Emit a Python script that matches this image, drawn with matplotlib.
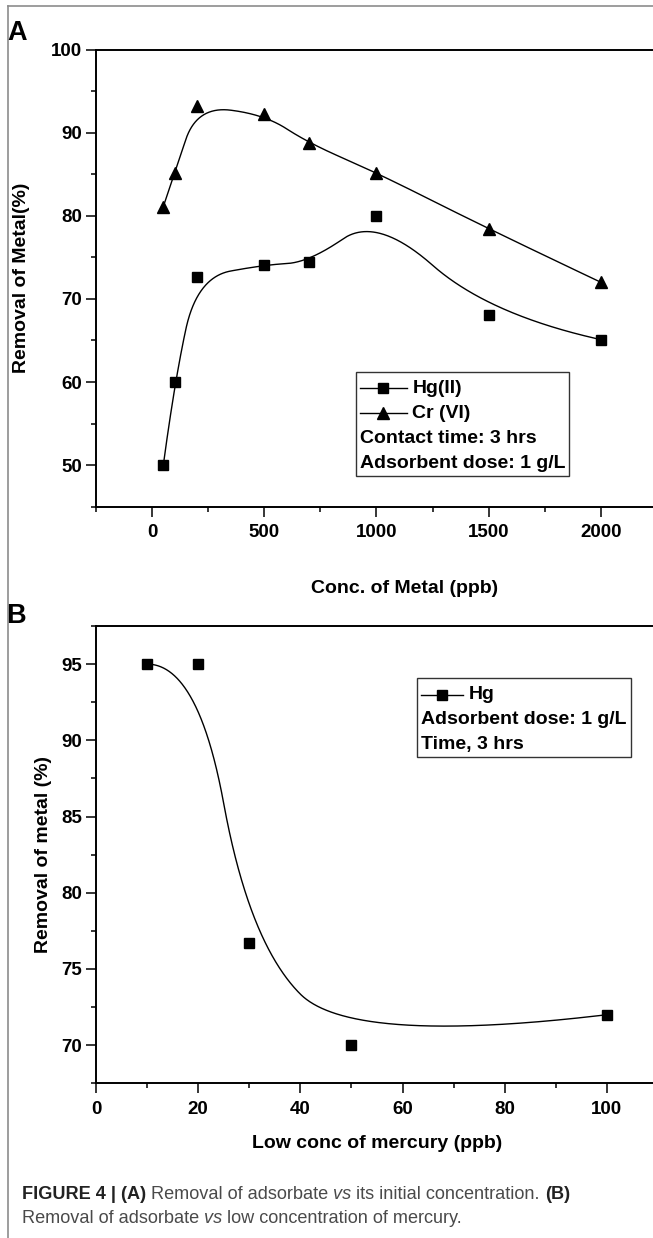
import numpy as np
import matplotlib
matplotlib.use("Agg")
import matplotlib.pyplot as plt
from matplotlib.lines import Line2D
from matplotlib.ticker import MultipleLocator
from matplotlib.offsetbox import AnchoredOffsetbox, VPacker, HPacker, TextArea, DrawingArea

# ---------------- data ----------------
conc_a = [50, 100, 200, 500, 700, 1000, 1500, 2000]
hg_a = [50.0, 60.0, 72.6, 74.1, 74.4, 80.0, 68.1, 65.1]
cr_a = [81.1, 85.1, 93.2, 92.2, 88.7, 85.2, 78.4, 72.0]

conc_b = [10, 20, 30, 50, 100]
hg_b = [95.0, 95.0, 76.7, 70.0, 72.0]

xticks_a = [0, 500, 1000, 1500, 2000]
yticks_a = [50, 60, 70, 80, 90, 100]
xticks_b = [0, 20, 40, 60, 80, 100]
yticks_b = [70, 75, 80, 85, 90, 95]

W, H = 653, 1238
plt.rcParams['font.family'] = ['Liberation Sans', 'DejaVu Sans']
plt.rcParams['font.weight'] = 'bold'


def bspline_curve(x, y, degree=2, num=800):
    """Clamped uniform B-spline using the data points as control points."""
    P = np.column_stack([x, y]).astype(float)
    n = len(P)
    k = min(degree, n - 1)
    nseg = n - k
    knots = np.concatenate([np.zeros(k), np.arange(nseg + 1, dtype=float),
                            np.full(k, float(nseg))])
    out = []
    for t in np.linspace(0, nseg, num):
        if t >= nseg:
            out.append(P[-1])
            continue
        s = int(np.searchsorted(knots, t, side='right') - 1)
        d = [P[j + s - k].copy() for j in range(k + 1)]
        for r in range(1, k + 1):
            for j in range(k, r - 1, -1):
                i = j + s - k
                alpha = (t - knots[i]) / (knots[j + s + 1 - r] - knots[i])
                d[j] = (1 - alpha) * d[j - 1] + alpha * d[j]
        out.append(d[k])
    out = np.array(out)
    return out[:, 0], out[:, 1]


fig = plt.figure(figsize=(W / 100, H / 100), dpi=100)


def px_axes(left, top, right, bottom):
    return fig.add_axes([left / W, 1 - bottom / H, (right - left) / W, (bottom - top) / H])


axA = px_axes(96, 49.5, 713, 506.7)
axB = px_axes(96, 626, 658, 1083.3)

TICKFS = 13.5
for ax in (axA, axB):
    for sp in ax.spines.values():
        sp.set_linewidth(1.4)
    ax.spines['right'].set_visible(False)
    ax.tick_params(which='both', direction='out', top=False, right=False, width=1.1)
    ax.tick_params(which='major', length=7, labelsize=TICKFS)
    ax.tick_params(which='minor', length=3.5)
    ax.tick_params(axis='y', which='major', pad=3)
    ax.tick_params(axis='x', which='major', pad=5.5)

# ---------------- panel A ----------------
for xs, ys, mk, ms in ((conc_a, hg_a, 's', 7), (conc_a, cr_a, '^', 8.5)):
    cx, cy = bspline_curve(xs, ys)
    axA.plot(cx, cy, color='black', lw=1.0)
    axA.plot(xs, ys, ls='none', marker=mk, ms=ms, color='black')

axA.set_xlim(-250, 2500)
axA.set_ylim(45, 100)
axA.set_xticks(xticks_a)
axA.set_yticks(yticks_a)
axA.xaxis.set_minor_locator(MultipleLocator(250))
axA.yaxis.set_minor_locator(MultipleLocator(5))
axA.set_xticklabels([str(v) for v in xticks_a], fontweight='bold', fontsize=TICKFS)
axA.set_yticklabels([str(v) for v in yticks_a], fontweight='bold', fontsize=TICKFS)
axA.set_xlabel('Conc. of Metal (ppb)', fontsize=14, fontweight='bold')
axA.set_ylabel('Removal of Metal(%)', fontsize=14, fontweight='bold')
axA.xaxis.set_label_coords(0.5, -(580 - 506.7) / 457.2)
axA.yaxis.set_label_coords(-(96 - 30) / 617.0, 0.5)

# ---------------- panel B ----------------
cx, cy = bspline_curve(conc_b, hg_b)
axB.plot(cx, cy, color='black', lw=1.0)
axB.plot(conc_b, hg_b, ls='none', marker='s', ms=7, color='black')
axB.set_xlim(0, 110)
axB.set_ylim(67.5, 97.5)
axB.set_xticks(xticks_b)
axB.set_yticks(yticks_b)
axB.xaxis.set_minor_locator(MultipleLocator(10))
axB.yaxis.set_minor_locator(MultipleLocator(2.5))
axB.set_xticklabels([str(v) for v in xticks_b], fontweight='bold', fontsize=TICKFS)
axB.set_yticklabels([str(v) for v in yticks_b], fontweight='bold', fontsize=TICKFS)
axB.set_xlabel('Low conc of mercury (ppb)', fontsize=14, fontweight='bold')
axB.set_ylabel('Removal of metal (%)', fontsize=14, fontweight='bold')
axB.xaxis.set_label_coords(0.5, -(1135 - 1083.3) / 457.3)
axB.yaxis.set_label_coords(-(96 - 52) / 562.0, 0.5)

# ---------------- legends ----------------
TP = dict(fontsize=14, fontweight='bold', color='black')


def leg_handle(marker, ms, w_pt):
    da = DrawingArea(w_pt, 10, 0, 0)
    da.add_artist(Line2D([0, w_pt], [5, 5], color='black', lw=1.0))
    da.add_artist(Line2D([w_pt / 2], [5], marker=marker, ms=ms, color='black', ls='none'))
    return da


def make_legend(ax, rows, x_px, y_px):
    children = []
    for r in rows:
        if isinstance(r, tuple):
            marker, ms, w_pt, label = r
            children.append(HPacker(children=[leg_handle(marker, ms, w_pt),
                                              TextArea(label, textprops=TP)],
                                    sep=4, align='center', pad=0))
        else:
            children.append(TextArea(r, textprops=TP))
    vp = VPacker(children=children, sep=5.8, align='left', pad=0)
    vp2 = VPacker(children=[DrawingArea(1, 2.9, 0, 0), vp], sep=0, align='left', pad=0)
    ab = AnchoredOffsetbox(loc='upper left', child=vp2, pad=0.2, borderpad=0,
                           frameon=True, bbox_to_anchor=(x_px / W, 1 - y_px / H),
                           bbox_transform=fig.transFigure, prop=dict(size=14))
    ab.patch.set_boxstyle('square', pad=0)
    ab.patch.set_linewidth(1.0)
    ab.patch.set_edgecolor('#333333')
    ab.set_clip_on(False)
    ax.add_artist(ab)


make_legend(axA, [('s', 7, 34, 'Hg(II)'), ('^', 8.5, 34, 'Cr (VI)'),
                  'Contact time: 3 hrs', 'Adsorbent dose: 1 g/L'], 355.7, 371.7)
make_legend(axB, [('s', 7, 30, 'Hg'), 'Adsorbent dose: 1 g/L', 'Time, 3 hrs'],
            417.3, 678.3)

# ---------------- panel letters & frame ----------------
fig.text(7 / W, 1 - 20 / H, 'A', fontsize=19.5, fontweight='bold', va='top', ha='left')
fig.text(6 / W, 1 - 603 / H, 'B', fontsize=19.5, fontweight='bold', va='top', ha='left')
fig.add_artist(Line2D([8 / W, 1], [1 - 6 / H, 1 - 6 / H], transform=fig.transFigure,
                      color='#8c8c8c', lw=1.2))
fig.add_artist(Line2D([8 / W, 8 / W], [0, 1 - 6 / H], transform=fig.transFigure,
                      color='#8c8c8c', lw=1.2))

# ---------------- caption ----------------
CAPFS = 13.1
BOLD = dict(fontsize=CAPFS, fontweight='bold', color='#222222')
REG = dict(fontsize=CAPFS, fontweight='normal', color='#4a4a4a')
ITA = dict(fontsize=CAPFS, fontweight='normal', style='italic', color='#4a4a4a')
renderer = fig.canvas.get_renderer()


def text_width(s, props):
    t = fig.text(0, 0, s, **props)
    w = t.get_window_extent(renderer=renderer).width
    t.remove()
    return w


space_w = text_width('a a', REG) - text_width('aa', REG)


def caption_line(pieces, x_px, baseline_px):
    x = x_px
    for i, (s, props) in enumerate(pieces):
        if i > 0:
            x += space_w
        fig.text(x / W, 1 - baseline_px / H, s, va='baseline', ha='left', **props)
        x += text_width(s, props)


caption_line([('FIGURE 4 | (A)', BOLD), ('Removal of adsorbate', REG), ('vs', ITA),
              ('its initial concentration.', REG), ('(B)', BOLD)], 22, 1199)
caption_line([('Removal of adsorbate', REG), ('vs', ITA),
              ('low concentration of mercury.', REG)], 22, 1223)

fig.savefig('out.png', dpi=100)
